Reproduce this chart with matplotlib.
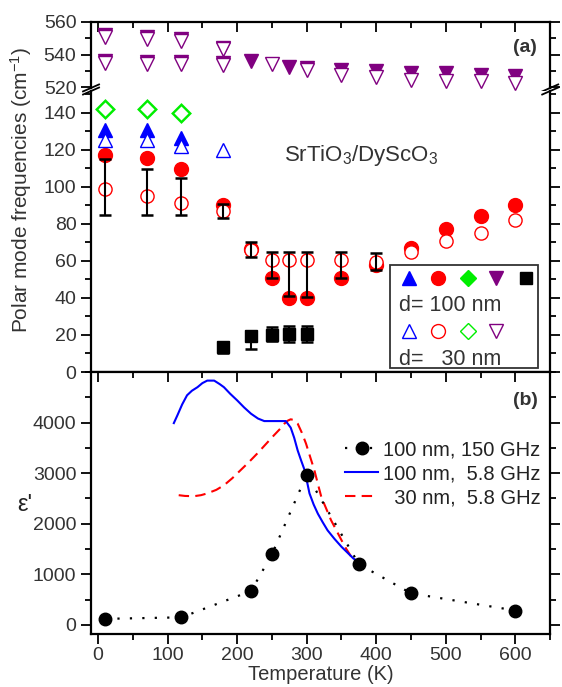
import numpy as np
import matplotlib
matplotlib.use("Agg")
import matplotlib.pyplot as plt
from matplotlib.ticker import MultipleLocator, FixedLocator
from matplotlib.patches import Rectangle

plt.rcParams["font.family"] = ["Liberation Sans", "DejaVu Sans"]
plt.rcParams["mathtext.default"] = "regular"
plt.rcParams["font.size"] = 14

# ---- data: panel (a) polar mode frequencies (cm^-1) --------------------
T = [10, 70, 120, 180, 220, 250, 275, 300, 350, 400, 450, 500, 550, 600]
NAN = np.nan

purple_hi_T = [10, 70, 120, 180]
purple_hi_100 = [552.2, 551.0, 549.6, 544.2]
purple_hi_30 = [551.0, 549.8, 548.3, 543.4]
purple_lo_100 = [536.2, 535.6, 535.6, 535.0, 536.2, NAN, 532.6, 531.8, 530.4, 530.0, 528.9, 528.7, 527.5, 526.8]
purple_lo_30 = [534.8, 534.2, 534.2, 533.4, NAN, 534.4, NAN, 530.6, 527.3, 526.3, 524.5, 523.5, 523.5, 522.6]

blue_T = [10, 70, 120, 180]
blue_100 = [130.5, 130.5, 126.5, NAN]
blue_30 = [125.3, 125.3, 121.8, 120.0]

green_T = [10, 70, 120]
green_100 = [142.0, 142.0, 140.0]
green_30 = [142.0, 142.0, 140.0]

red_100 = [117.3, 115.5, 109.6, 89.9, 66.3, 50.8, 40.1, 40.1, 50.5, 57.8, 67.2, 77.4, 84.2, 90.1]
red_30 = [98.9, 94.9, 91.3, 86.9, 66.0, 60.5, 60.5, 60.5, 60.5, 59.2, 65.0, 70.7, 75.2, 81.9]

err_T = [10, 70, 120, 180, 220, 250, 275, 300, 350, 400]
err_lo = [85.0, 85.0, 85.0, 83.3, 62.2, 50.7, 41.0, 40.6, 51.0, 55.0]
err_hi = [115.0, 109.8, 104.8, 90.8, 70.2, 65.0, 65.0, 65.0, 65.0, 64.3]

sq_T = [180, 220, 250, 275, 300]
sq_100 = [13.7, 19.4, 19.8, 20.3, 20.3]
sq_err_lo = [3.2, 7.0, 3.3, 4.0, 4.0]
sq_err_hi = [2.6, 2.6, 4.4, 4.4, 4.4]

# ---- data: panel (b) permittivity ----------------------------------------
eps_T = [10, 120, 220, 250, 300, 375, 450, 600]
eps_150GHz = [120, 150, 670, 1395, 2970, 1200, 625, 285]

b_T = [109, 114, 121, 128, 135, 143, 150, 157, 167, 175, 181, 190, 200, 210, 220, 230,
       239, 255, 270, 277, 282, 287, 292, 297, 304, 310, 316, 323, 330, 340, 350, 360, 367, 379]
b_eps = [3990, 4140, 4360, 4540, 4630, 4700, 4780, 4830, 4830, 4760, 4700, 4570, 4440, 4300,
         4175, 4080, 4030, 4030, 4030, 3900, 3700, 3450, 3250, 3060, 2600, 2380, 2200, 2030,
         1870, 1700, 1545, 1410, 1315, 1200]

r_T = [116, 125, 138, 148, 157, 170, 181, 193, 205, 217, 229, 241, 253, 262, 268, 273, 277,
       282, 287, 293, 299, 305, 311, 316, 321, 328, 335, 343, 350, 357, 364, 378]
r_eps = [2565, 2550, 2545, 2565, 2600, 2670, 2760, 2900, 3060, 3220, 3390, 3570, 3750, 3880,
         3980, 4040, 4065, 4050, 3980, 3800, 3585, 3320, 3060, 2790, 2530, 2300, 2070, 1860,
         1675, 1500, 1350, 1200]

BLUE, RED, GREEN, PURPLE = "#0000ff", "#ff0000", "#00ee00", "#800080"
TXT = "#333333"


def style(ax):
    # Origin-like ticks: out on left/bottom, in on top/right
    ax.tick_params(which="both", direction="out", width=1.3, labelsize=14, labelcolor=TXT)
    ax.tick_params(which="both", top=True, right=True)
    ax.tick_params(which="major", length=7)
    ax.tick_params(which="minor", length=4.5)
    ax.tick_params(axis="x", pad=2)
    for s in ax.spines.values():
        s.set_linewidth(1.6)
    ax.xaxis.set_major_locator(MultipleLocator(100))
    ax.xaxis.set_minor_locator(MultipleLocator(50))
    ax.set_xlim(-10, 650)


def inward_top_right(ax):
    for t in ax.xaxis.get_major_ticks() + ax.xaxis.get_minor_ticks():
        t.tick2line.set_marker(3)  # tick pointing down from the top spine
    for t in ax.yaxis.get_major_ticks() + ax.yaxis.get_minor_ticks():
        t.tick2line.set_marker(1)  # tick pointing left from the right spine


def main():
    fig = plt.figure(figsize=(5.62, 6.87), dpi=100)
    ax_up = fig.add_axes([0.162, 0.872, 0.817, 0.096])
    ax_lo = fig.add_axes([0.162, 0.4585, 0.817, 0.409])
    ax_b = fig.add_axes([0.162, 0.0771, 0.817, 0.3814])
    for ax in (ax_up, ax_lo, ax_b):
        style(ax)

    # upper part of (a): purple modes
    ax_up.spines["bottom"].set_visible(False)
    ax_up.tick_params(which="both", bottom=False, labelbottom=False)
    ax_up.set_ylim(519.5, 560)
    ax_up.yaxis.set_major_locator(MultipleLocator(20))
    ax_up.yaxis.set_minor_locator(MultipleLocator(10))
    kw_f = dict(ls="none", ms=10, clip_on=False)
    kw_o = dict(ls="none", ms=10, mfc="white", mew=1.0, clip_on=False)
    ax_up.plot(purple_hi_T, purple_hi_100, "v", color=PURPLE, **kw_f)
    ax_up.plot(T, purple_lo_100, "v", color=PURPLE, **kw_f)
    ax_up.plot(purple_hi_T, purple_hi_30, "v", color=PURPLE, **kw_o)
    ax_up.plot(T, purple_lo_30, "v", color=PURPLE, **kw_o)
    ax_up.text(0.946, 0.62, "(a)", transform=ax_up.transAxes, fontsize=14,
               fontweight="bold", ha="center", va="center", color=TXT)

    # lower part of (a)
    ax_lo.spines["top"].set_visible(False)
    ax_lo.tick_params(which="both", top=False, bottom=False, labelbottom=False)
    ax_lo.set_ylim(0, 151.7)
    ax_lo.yaxis.set_major_locator(MultipleLocator(20))
    ax_lo.yaxis.set_minor_locator(MultipleLocator(10))

    mid = (np.array(err_lo) + np.array(err_hi)) / 2
    half = (np.array(err_hi) - np.array(err_lo)) / 2
    ax_lo.errorbar(err_T, mid, yerr=half, fmt="none", ecolor="black", elinewidth=1.5,
                   capsize=4.5, capthick=1.8, zorder=5)
    ax_lo.errorbar(sq_T, sq_100, yerr=[sq_err_lo, sq_err_hi], fmt="none", ecolor="black",
                   elinewidth=1.5, capsize=4.5, capthick=1.8, zorder=5)

    ax_lo.plot(T, red_100, "o", color=RED, ls="none", ms=10, zorder=3)
    ax_lo.plot(T, red_30, "o", color=RED, ls="none", ms=9.5, mfc="white", mew=1.0, zorder=4)
    ax_lo.plot(blue_T, blue_100, "^", color=BLUE, ls="none", ms=10, zorder=3)
    ax_lo.plot(blue_T, blue_30, "^", color=BLUE, ls="none", ms=10, mfc="white", mew=1.0, zorder=4)
    ax_lo.plot(green_T, green_100, "D", color=GREEN, ls="none", ms=8.5, mew=2.5, zorder=3,
               clip_on=False)
    ax_lo.plot(green_T, green_30, "D", color=GREEN, ls="none", ms=8.5, mfc="white", mew=1.0,
               zorder=4, clip_on=False)
    ax_lo.plot(sq_T, sq_100, "s", color="black", ls="none", ms=8, zorder=6)

    ax_lo.text(0.42, 0.752, "SrTiO$_3$/DyScO$_3$", transform=ax_lo.transAxes, fontsize=16,
               color=TXT, ha="left", va="baseline")

    # hand-made legend box of panel (a)
    ax_lo.add_patch(Rectangle((0.651, 0.014), 0.323, 0.367, transform=ax_lo.transAxes,
                              fill=False, lw=1.3, ec=TXT, zorder=7))
    mk = [("^", BLUE, 9.5), ("o", RED, 10), ("D", GREEN, 8), ("v", PURPLE, 10), ("s", "black", 8)]
    xs = [0.693, 0.756, 0.821, 0.882, 0.948]
    for (m, c, s), x in zip(mk, xs):
        ax_lo.plot([x], [0.334], m, color=c, ms=s, transform=ax_lo.transAxes, zorder=8)
    for (m, c, s), x in zip(mk[:4], xs[:4]):
        ax_lo.plot([x], [0.146], m, color=c, ms=s, mfc="white", mew=1.0,
                   transform=ax_lo.transAxes, zorder=8)
    ax_lo.text(0.671, 0.235, "d= 100 nm", transform=ax_lo.transAxes, fontsize=15.5,
               color=TXT, va="center")
    ax_lo.text(0.671, 0.043, "d=   30 nm", transform=ax_lo.transAxes, fontsize=15.5,
               color=TXT, va="center")

    # break marks
    for ax, y in ((ax_up, 0.0), (ax_lo, 1.0)):
        for x in (0.0, 1.0):
            dx, dy = 8 / 459, 3.5 / (66 if ax is ax_up else 281)
            ax.plot([x - dx, x + dx], [y - dy, y + dy], color="black", lw=1.3,
                    transform=ax.transAxes, clip_on=False)

    fig.text(0.038, 0.723, "Polar mode frequencies (cm$^{-1}$)", rotation=90,
             ha="center", va="center", fontsize=15, color=TXT)

    # panel (b)
    ax_b.set_ylim(-180, 5000)
    ax_b.yaxis.set_major_locator(FixedLocator([0, 1000, 2000, 3000, 4000]))
    ax_b.yaxis.set_minor_locator(MultipleLocator(500))
    ax_b.plot(eps_T, eps_150GHz, color="black", ls=(0, (1, 4.6)), lw=1.6, marker="o", ms=9,
              label="100 nm, 150 GHz", zorder=4)
    ax_b.plot(b_T, b_eps, color=BLUE, lw=1.5, label="100 nm,  5.8 GHz", zorder=3)
    ax_b.plot(r_T, r_eps, color=RED, lw=1.5, ls=(0, (5, 3)), label="  30 nm,  5.8 GHz", zorder=2)
    ax_b.legend(loc="upper right", bbox_to_anchor=(1.005, 0.785), frameon=False, fontsize=14.5,
                handlelength=1.6, handletextpad=0.25, labelspacing=0.25, borderaxespad=0.2,
                labelcolor="#222222")
    ax_b.text(0.946, 0.893, "(b)", transform=ax_b.transAxes, fontsize=14,
              fontweight="bold", ha="center", va="center", color=TXT)
    ax_b.set_xlabel("Temperature (K)", fontsize=14.5, labelpad=1, color=TXT)
    fig.text(0.045, 0.265, "ε'", ha="center", va="center", fontsize=17, color="#222222")

    for ax in (ax_up, ax_lo, ax_b):
        inward_top_right(ax)

    fig.savefig("out.png", dpi=100)


if __name__ == "__main__":
    main()
